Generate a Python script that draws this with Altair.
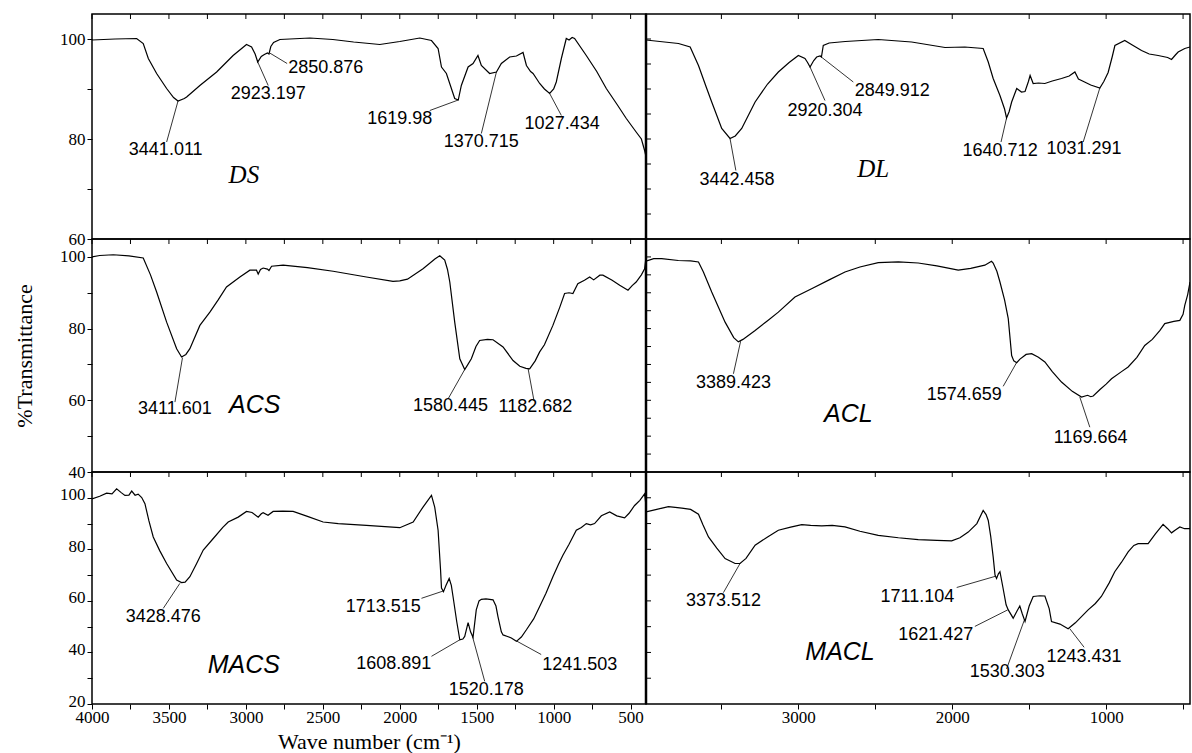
import altair as alt
import pandas as pd

SERIF = "Liberation Serif"
SANS = "Liberation Sans"

# ---------------- spectra (wavenumber, %T) ----------------
ds_wn = [4000, 3850, 3710, 3667, 3634, 3580, 3515, 3470, 3441, 3400, 3385, 3299, 3190, 3083, 2996, 2963, 2940,
         2923, 2900, 2880, 2860, 2850, 2838, 2820, 2779, 2584, 2435, 2300, 2130, 2000, 1870, 1794, 1751, 1729,
         1697, 1643, 1620, 1600, 1556, 1524, 1492, 1470, 1416, 1372, 1340, 1286, 1242, 1199, 1177, 1150, 1134,
         1110, 1091, 1060, 1026, 1000, 983, 950, 918, 900, 880, 864, 788, 720, 658, 590, 528, 464, 430, 409, 400]
ds_t = [99.8, 100, 100.1, 99.1, 96.1, 93.1, 90.1, 88.3, 87.6, 88.1, 88.4, 90.7, 93.4, 96.7, 98.9, 98.4, 97.0,
        95.4, 96.5, 96.9, 97.2, 97.0, 98.5, 99.3, 99.9, 100.2, 99.9, 99.4, 98.9, 99.5, 100.2, 99.7, 98.1, 94.4,
        93.1, 88.1, 87.8, 90.7, 94.4, 95.1, 96.7, 94.7, 93.1, 93.4, 95.1, 96.4, 96.6, 97.3, 94.7, 93.5, 93.1,
        92.0, 91.1, 90.0, 89.1, 90.0, 91.4, 96.1, 100.1, 99.8, 100.3, 100.1, 96.7, 93.5, 90.1, 87.0, 84.1, 81.4,
        80.0, 77.7, 76.5]

dl_wn = [3990, 3900, 3779, 3703, 3649, 3600, 3563, 3498, 3444, 3410, 3368, 3281, 3200, 3130, 3060, 3000, 2957,
         2940, 2924, 2900, 2881, 2859, 2850, 2838, 2800, 2695, 2481, 2264, 2047, 1918, 1799, 1766, 1734, 1690,
         1660, 1647, 1630, 1614, 1581, 1550, 1527, 1505, 1494, 1474, 1440, 1398, 1350, 1290, 1240, 1203, 1180,
         1160, 1100, 1041, 1015, 987, 960, 943, 879, 830, 770, 720, 662, 600, 575, 550, 532, 489, 455]
dl_t = [99.8, 99.5, 99.1, 98.4, 94.7, 90.5, 87.4, 82.1, 80.1, 80.6, 82.1, 87.4, 91.0, 93.4, 95.3, 96.7, 96.1,
        95.3, 94.4, 95.7, 96.4, 96.6, 96.4, 98.7, 99.2, 99.5, 99.9, 99.4, 98.3, 98.4, 98.1, 95.4, 92.1, 88.7,
        86.0, 84.2, 85.5, 87.4, 90.1, 89.4, 89.5, 91.5, 92.7, 91.1, 91.2, 91.1, 91.6, 92.1, 92.6, 93.4, 92.0,
        91.7, 90.8, 90.2, 91.5, 93.3, 96.5, 98.7, 99.7, 98.8, 97.7, 97.0, 96.7, 96.3, 95.9, 96.8, 97.4, 98.1, 98.4]

acs_wn = [4000, 3950, 3862, 3760, 3667, 3620, 3580, 3515, 3450, 3418, 3390, 3364, 3299, 3234, 3180, 3126, 3039,
          2974, 2931, 2920, 2905, 2888, 2860, 2850, 2833, 2758, 2600, 2433, 2217, 2044, 2000, 1950, 1849, 1770,
          1740, 1708, 1690, 1675, 1643, 1610, 1578, 1560, 1535, 1505, 1481, 1430, 1394, 1329, 1264, 1220, 1180,
          1156, 1120, 1091, 1060, 1005, 960, 929, 900, 875, 843, 800, 766, 740, 700, 680, 620, 571, 517, 490,
          464, 430, 409, 398]
acs_t = [100, 100.4, 100.6, 100.3, 99.7, 95.0, 90.2, 81.8, 74.4, 72.1, 72.8, 74.4, 80.9, 84.6, 88.0, 91.6, 94.4,
         96.3, 96.3, 95.2, 96.5, 96.9, 96.6, 96.2, 97.4, 97.7, 97.0, 96.0, 94.4, 93.2, 93.3, 93.8, 96.7, 99.5,
         100.3, 99.1, 96.5, 93.0, 81.8, 71.6, 68.6, 69.8, 71.6, 75.0, 76.7, 77.0, 76.9, 74.9, 71.1, 69.5, 68.9,
         68.8, 71.0, 73.5, 75.5, 80.9, 86.0, 89.8, 90.0, 89.8, 92.5, 93.5, 94.4, 93.6, 94.9, 94.9, 93.5, 92.1,
         90.7, 92.0, 93.0, 95.0, 96.7, 100.5]

acl_wn = [3990, 3940, 3888, 3780, 3700, 3649, 3617, 3563, 3476, 3420, 3390, 3360, 3281, 3200, 3130, 3022, 2914,
          2800, 2697, 2600, 2481, 2350, 2221, 2100, 1961, 1880, 1788, 1745, 1734, 1710, 1690, 1660, 1636, 1614,
          1600, 1581, 1560, 1520, 1484, 1440, 1398, 1350, 1290, 1220, 1160, 1120, 1100, 1084, 1040, 1000, 965,
          900, 857, 800, 749, 700, 650, 619, 560, 521, 500, 489, 470, 455]
acl_t = [98.8, 99.5, 99.5, 99.0, 98.9, 98.6, 95.8, 90.2, 81.8, 77.5, 76.3, 77.0, 79.5, 82.2, 84.6, 88.8, 91.1,
         93.6, 95.8, 97.2, 98.4, 98.6, 98.3, 97.5, 96.3, 96.8, 97.7, 98.8, 98.3, 96.0, 93.0, 88.0, 82.8, 72.5,
         71.0, 70.5, 71.5, 72.8, 73.0, 72.0, 70.7, 68.0, 65.1, 62.5, 60.9, 61.4, 61.0, 61.2, 63.0, 64.5, 66.0,
         68.0, 69.3, 72.0, 75.3, 77.0, 79.5, 81.4, 82.0, 82.3, 84.0, 86.5, 89.5, 93.0]

macs_wn = [4000, 3950, 3905, 3870, 3840, 3810, 3786, 3760, 3742, 3720, 3700, 3677, 3656, 3630, 3602, 3560, 3515,
           3450, 3418, 3395, 3364, 3320, 3277, 3212, 3150, 3115, 3050, 2996, 2960, 2920, 2900, 2888, 2856, 2823,
           2760, 2693, 2600, 2498, 2400, 2217, 2000, 1913, 1849, 1794, 1773, 1751, 1735, 1729, 1716, 1700, 1679,
           1665, 1654, 1630, 1610, 1590, 1578, 1556, 1540, 1524, 1503, 1485, 1470, 1440, 1394, 1375, 1362, 1340,
           1329, 1300, 1275, 1242, 1210, 1177, 1130, 1091, 1050, 1005, 970, 940, 900, 853, 820, 788, 760, 734,
           690, 636, 590, 539, 510, 474, 440, 409, 400]
macs_t = [99.6, 100.6, 101.8, 101.5, 103.5, 102.0, 100.9, 101.0, 102.6, 101.0, 101.4, 100.1, 97.7, 91.0, 84.8,
          79.5, 74.5, 68.1, 67.1, 67.3, 69.4, 74.5, 79.7, 84.2, 88.5, 90.6, 92.5, 94.7, 94.3, 92.5, 93.8, 94.2,
          93.2, 94.7, 94.8, 94.7, 92.8, 90.6, 90.0, 89.3, 88.4, 90.6, 96.4, 100.9, 96.4, 87.4, 72.0, 65.0, 63.6,
          66.0, 68.7, 66.0, 61.7, 52.0, 44.9, 45.2, 46.2, 51.6, 48.0, 45.9, 56.5, 60.0, 60.6, 60.8, 60.4, 58.0,
          53.9, 48.0, 46.8, 46.2, 45.6, 44.3, 46.0, 48.8, 53.0, 57.8, 63.0, 69.4, 74.0, 77.7, 82.0, 87.4, 88.5,
          90.0, 89.5, 90.0, 93.0, 94.5, 93.0, 92.2, 94.0, 97.0, 99.0, 101.5, 97.0]

macl_wn = [3990, 3920, 3844, 3800, 3757, 3700, 3649, 3620, 3584, 3530, 3476, 3411, 3379, 3340, 3281, 3200, 3130,
           3050, 2978, 2920, 2848, 2780, 2697, 2600, 2481, 2350, 2221, 2100, 2004, 1950, 1896, 1840, 1799, 1780,
           1766, 1750, 1734, 1722, 1712, 1700, 1690, 1670, 1650, 1636, 1604, 1580, 1561, 1545, 1527, 1500, 1474,
           1430, 1398, 1370, 1355, 1300, 1247, 1200, 1117, 1070, 1031, 980, 944, 900, 857, 820, 792, 727, 680,
           630, 600, 575, 550, 521, 490, 455]
macl_t = [94.5, 95.5, 96.6, 96.3, 96.0, 95.5, 93.6, 89.5, 84.8, 80.5, 76.4, 74.5, 74.5, 76.5, 81.6, 84.8, 87.4,
          88.6, 89.6, 89.3, 89.1, 89.3, 88.7, 87.0, 85.4, 84.5, 83.8, 83.5, 83.3, 84.5, 86.7, 90.0, 95.1, 93.5,
          91.2, 85.0, 77.1, 70.0, 68.7, 70.5, 71.3, 65.0, 58.5, 56.5, 53.3, 56.0, 58.0, 55.0, 52.0, 58.0, 61.7,
          62.0, 61.9, 57.0, 52.0, 51.0, 49.2, 51.5, 56.5, 59.0, 61.7, 67.0, 71.3, 75.0, 79.0, 81.5, 82.2, 82.2,
          86.0, 89.7, 88.0, 86.4, 87.5, 88.7, 88.0, 88.0]

# ---------------- peak annotations ----------------
ds_labels = ["3441.011", "2923.197", "2850.876", "1619.98", "1370.715", "1027.434"]
ds_peak_x = [3441, 2923, 2845, 1620, 1372, 1026]
ds_peak_y = [87.6, 95.4, 97.2, 87.8, 93.4, 89.1]
ds_end_x = [3515, 2855, 2732, 1805, 1470, 950]
ds_end_y = [79.4, 90.7, 95.1, 85.7, 81.1, 84.7]
ds_text_x = [3521, 2855, 2481, 2000, 1470, 945]
ds_text_y = [77.9, 89.1, 94.3, 84.0, 79.5, 83.1]

dl_labels = ["3442.458", "2920.304", "2849.912", "1640.712", "1031.291"]
dl_peak_x = [3444, 2924, 2859, 1647, 1041]
dl_peak_y = [80.1, 94.4, 96.6, 84.2, 90.2]
dl_end_x = [3406, 2827, 2643, 1683, 1149]
dl_end_y = [73.7, 87.7, 91.4, 79.4, 79.4]
dl_text_x = [3399, 2827, 2390, 1689, 1144]
dl_text_y = [71.9, 85.6, 89.6, 77.7, 78.1]

acs_labels = ["3411.601", "1580.445", "1182.682"]
acs_peak_x = [3412, 1578, 1166]
acs_peak_y = [71.9, 68.6, 68.8]
acs_end_x = [3461, 1686, 1128]
acs_end_y = [59.5, 60.4, 59.9]
acs_text_x = [3461, 1671, 1119]
acs_text_y = [57.6, 58.3, 58.0]

acl_labels = ["3389.423", "1574.659", "1169.664"]
acl_peak_x = [3375, 1582, 1171]
acl_peak_y = [76.5, 70.5, 60.9]
acl_end_x = [3422, 1669, 1106]
acl_end_y = [67.4, 63.9, 52.5]
acl_text_x = [3422, 1922, 1101]
acl_text_y = [64.9, 61.6, 49.6]

macs_labels = ["3428.476", "1713.515", "1608.891", "1520.178", "1241.503"]
macs_peak_x = [3429, 1719, 1610, 1529, 1240]
macs_peak_y = [66.8, 63.8, 44.9, 46.5, 44.4]
macs_end_x = [3537, 1859, 1794, 1448, 1081]
macs_end_y = [57.1, 61.0, 38.5, 28.8, 39.2]
macs_text_x = [3537, 2108, 2039, 1438, 831]
macs_text_y = [53.6, 57.8, 35.5, 25.3, 35.3]

macl_labels = ["3373.512", "1711.104", "1621.427", "1530.303", "1243.431"]
macl_peak_x = [3379, 1722, 1640, 1532, 1236]
macl_peak_y = [74.5, 69.5, 56.5, 52.5, 49.2]
macl_end_x = [3487, 1971, 1853, 1647, 1143]
macl_end_y = [63.2, 65.2, 50.1, 33.6, 42.0]
macl_text_x = [3487, 2226, 2107, 1642, 1144]
macl_text_y = [60.0, 61.7, 46.6, 32.3, 38.4]

# sample names and their anchor (wavenumber, %T)
names = ["DS", "DL", "ACS", "ACL", "MACS", "MACL"]
name_x = [3013, 2513, 2942, 2675, 3013, 2729]
name_y = [72.9, 74.1, 58.8, 56.2, 35.0, 40.0]

# axes
left_x_dom = [400, 4000]
right_x_dom = [455, 3990]
row_y_dom = [[60, 105], [40, 105], [20, 110]]
row_y_ticks = [[60, 70, 80, 90, 100], [40, 50, 60, 70, 80, 90, 100], [20, 30, 40, 50, 60, 70, 80, 90, 100]]
row_inner_y_ticks = [[65, 70, 75, 80, 85, 90, 95, 100], [45, 50, 55, 60, 65, 70, 75, 80, 85, 90, 95, 100],
                     [30, 40, 50, 60, 70, 80, 90, 100]]
left_x_ticks = [4000, 3750, 3500, 3250, 3000, 2750, 2500, 2250, 2000, 1750, 1500, 1250, 1000, 750, 500]
right_x_ticks = [3500, 3000, 2500, 2000, 1500, 1000, 500]

LEFT_W, RIGHT_W = 554, 544
ROW_H = [225, 233, 232]


def panel(row, col, wn, tr, labels, pkx, pky, enx, eny, txx, txy):
    w = LEFT_W if col == 0 else RIGHT_W
    h = ROW_H[row]
    xdom = left_x_dom if col == 0 else right_x_dom
    xticks = left_x_ticks if col == 0 else right_x_ticks
    step = 500 if col == 0 else 1000
    if row == 2:
        xaxis = alt.Axis(values=xticks, format="d",
                         labelExpr=f"datum.value % {step} == 0 ? datum.label : ''",
                         tickSize=5, tickColor="black", tickWidth=1, domain=False, grid=False,
                         labelFont=SERIF, labelFontSize=17, labelColor="black", labelPadding=0,
                         labelFlush=False, labelOverlap=False,
                         title="Wave number (cm⁻¹)" if col == 0 else None,
                         titleFont=SERIF, titleFontSize=22, titleFontWeight="normal",
                         titleColor="black", titlePadding=6)
    else:
        xaxis = None
    if col == 0:
        yaxis = alt.Axis(values=row_y_ticks[row], format="d",
                         labelExpr="datum.value % 20 == 0 ? datum.label : ''",
                         tickSize=5, tickColor="black", tickWidth=1, domain=False, grid=False,
                         labelFont=SERIF, labelFontSize=17, labelColor="black", labelPadding=2,
                         labelFlush=False, labelOverlap=False, labelOffset=-3 if row == 2 else 0,
                         minExtent=50, maxExtent=50,
                         title="%Transmittance" if row == 1 else None,
                         titleFont=SERIF, titleFontSize=22, titleFontWeight="normal",
                         titleColor="black", titlePadding=6)
    else:
        yaxis = None

    X = alt.X("x:Q", scale=alt.Scale(domain=xdom, reverse=True, nice=False, zero=False), axis=xaxis)
    Y = alt.Y("y:Q", scale=alt.Scale(domain=row_y_dom[row], nice=False, zero=False), axis=yaxis)

    spec = pd.DataFrame({"x": wn, "y": tr})
    line = alt.Chart(spec).mark_line(color="black", strokeWidth=1.2, clip=True).encode(x=X, y=Y)

    lead_df = pd.DataFrame({"x": pkx, "y": pky, "x2": enx, "y2": eny})
    lead = alt.Chart(lead_df).mark_rule(color="black", strokeWidth=0.8).encode(
        x=X, y=Y, x2="x2:Q", y2="y2:Q")

    txt_df = pd.DataFrame({"x": txx, "y": txy, "label": labels})
    text = alt.Chart(txt_df).mark_text(font=SANS, fontSize=18, color="black",
                                       align="center", baseline="middle").encode(x=X, y=Y, text="label:N")

    i = row * 2 + col
    nm_df = pd.DataFrame({"x": [name_x[i]], "y": [name_y[i]], "label": [names[i]]})
    if row == 0:
        nm = alt.Chart(nm_df).mark_text(font=SERIF, fontSize=25, fontStyle="italic", color="black",
                                        align="center", baseline="middle")
    else:
        nm = alt.Chart(nm_df).mark_text(font=SANS, fontSize=25, fontStyle="italic", color="black",
                                        align="center", baseline="middle")
    nm = nm.encode(x=X, y=Y, text="label:N")

    top_ticks = alt.Chart(pd.DataFrame({"x": xticks})).mark_rule(color="black", strokeWidth=1).encode(
        x=X, y=alt.value(0), y2=alt.value(5))

    layers = [line, lead, text, nm, top_ticks]
    if col == 1:
        side_ticks = alt.Chart(pd.DataFrame({"y": row_inner_y_ticks[row]})).mark_rule(
            color="black", strokeWidth=1).encode(x=alt.value(0), x2=alt.value(5), y=Y)
        divider = alt.Chart(pd.DataFrame({"y": [0]})).mark_rule(color="black", strokeWidth=2.5).encode(
            x=alt.value(0), y=alt.value(0), y2=alt.value(h))
        layers += [side_ticks, divider]
    return alt.layer(*layers).properties(width=w, height=h)


panels = [
    panel(0, 0, ds_wn, ds_t, ds_labels, ds_peak_x, ds_peak_y, ds_end_x, ds_end_y, ds_text_x, ds_text_y),
    panel(0, 1, dl_wn, dl_t, dl_labels, dl_peak_x, dl_peak_y, dl_end_x, dl_end_y, dl_text_x, dl_text_y),
    panel(1, 0, acs_wn, acs_t, acs_labels, acs_peak_x, acs_peak_y, acs_end_x, acs_end_y, acs_text_x, acs_text_y),
    panel(1, 1, acl_wn, acl_t, acl_labels, acl_peak_x, acl_peak_y, acl_end_x, acl_end_y, acl_text_x, acl_text_y),
    panel(2, 0, macs_wn, macs_t, macs_labels, macs_peak_x, macs_peak_y, macs_end_x, macs_end_y,
          macs_text_x, macs_text_y),
    panel(2, 1, macl_wn, macl_t, macl_labels, macl_peak_x, macl_peak_y, macl_end_x, macl_end_y,
          macl_text_x, macl_text_y),
]

chart = alt.concat(*panels, columns=2, spacing=0, bounds="flush", align="each").properties(
    padding={"left": 12, "top": 12, "right": 0, "bottom": 0},
    background="white",
).configure_view(stroke="black", strokeWidth=1.5)

chart.save("out.html", embed_options={"renderer": "svg", "actions": False})
